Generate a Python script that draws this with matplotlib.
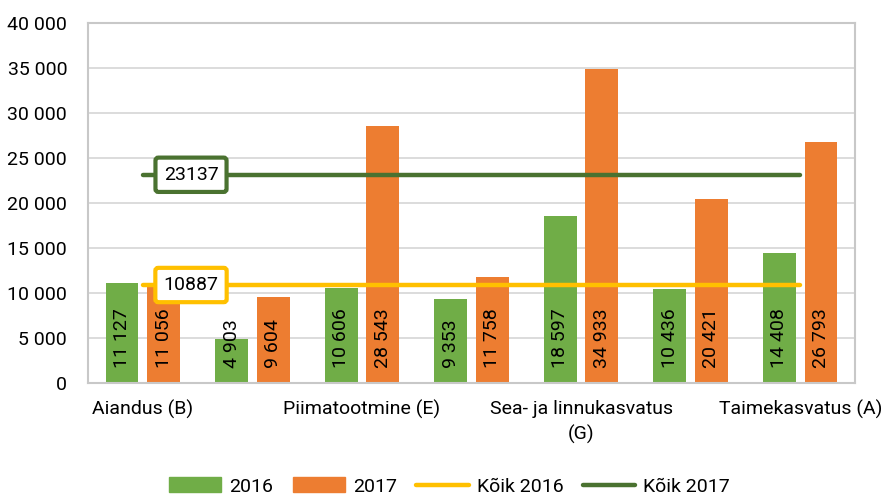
import matplotlib.pyplot as plt
import numpy as np
from matplotlib.patches import Patch
from matplotlib.lines import Line2D

plt.rcParams['font.family'] = ['Roboto', 'DejaVu Sans']

# data
categories = ['Aiandus (B)', '', 'Piimatootmine (E)', '', 'Sea- ja linnukasvatus\n(G)', '', 'Taimekasvatus (A)']
values_2016 = [11127, 4903, 10606, 9353, 18597, 10436, 14408]
values_2017 = [11056, 9604, 28543, 11758, 34933, 20421, 26793]
avg_2016 = 10887
avg_2017 = 23137

green = '#70AD47'
orange = '#ED7D31'
yellow = '#FFC000'
dark_green = '#4A7230'


def fmt(v):
    return f'{v:,}'.replace(',', ' ')


fig = plt.figure(figsize=(8.81, 4.95), dpi=100)
ax = fig.add_axes([0.0999, 0.2263, 0.8706, 0.7272])

x = np.arange(len(categories))
w = 0.30
off = 0.19
b1 = ax.bar(x - off, values_2016, w, color=green, zorder=2)
b2 = ax.bar(x + off, values_2017, w, color=orange, zorder=2)

for bars, vals in ((b1, values_2016), (b2, values_2017)):
    for bar, v in zip(bars, vals):
        ax.annotate(fmt(v), (bar.get_x() + bar.get_width() / 2, 0),
                    xytext=(0, 11), textcoords='offset points',
                    ha='center', va='bottom', rotation=90, fontsize=14,
                    color='black', zorder=5)

# average lines from first to last category
for val, col in ((avg_2016, yellow), (avg_2017, dark_green)):
    ax.plot([x[0], x[-1]], [val, val], color=col, lw=3.2,
            solid_capstyle='round', zorder=3)
    ax.text(0.44, val, str(val), ha='center', va='center', fontsize=14,
            zorder=6,
            bbox=dict(boxstyle='round,pad=0.42,rounding_size=0.15',
                      fc='white', ec=col, lw=3))

ax.set_xlim(-0.5, len(categories) - 0.5)
ax.set_ylim(0, 40000)
ax.set_yticks(np.arange(0, 40001, 5000))
ax.set_yticklabels([fmt(int(t)) for t in ax.get_yticks()])
ax.set_xticks(x)
ax.set_xticklabels(categories, linespacing=1.45)
ax.tick_params(axis='both', length=0, labelsize=14)
ax.tick_params(axis='y', pad=15)
ax.tick_params(axis='x', pad=12)

ax.grid(axis='y', color='#D9D9D9', lw=1.3, zorder=0)
ax.set_axisbelow(True)
for s in ax.spines.values():
    s.set_color('#C8C8C8')
    s.set_linewidth(1.5)

handles = [Patch(color=green), Patch(color=orange),
           Line2D([], [], color=yellow, lw=3.2, solid_capstyle='round'),
           Line2D([], [], color=dark_green, lw=3.2, solid_capstyle='round')]
labels = ['2016', '2017', 'Kõik 2016', 'Kõik 2017']
fig.legend(handles, labels, loc='center', bbox_to_anchor=(0.51, 0.017),
           ncol=4, frameon=False, fontsize=14, handlelength=2.7,
           handleheight=0.8, handletextpad=0.4, columnspacing=1.0)

fig.savefig('out.png', dpi=100)
